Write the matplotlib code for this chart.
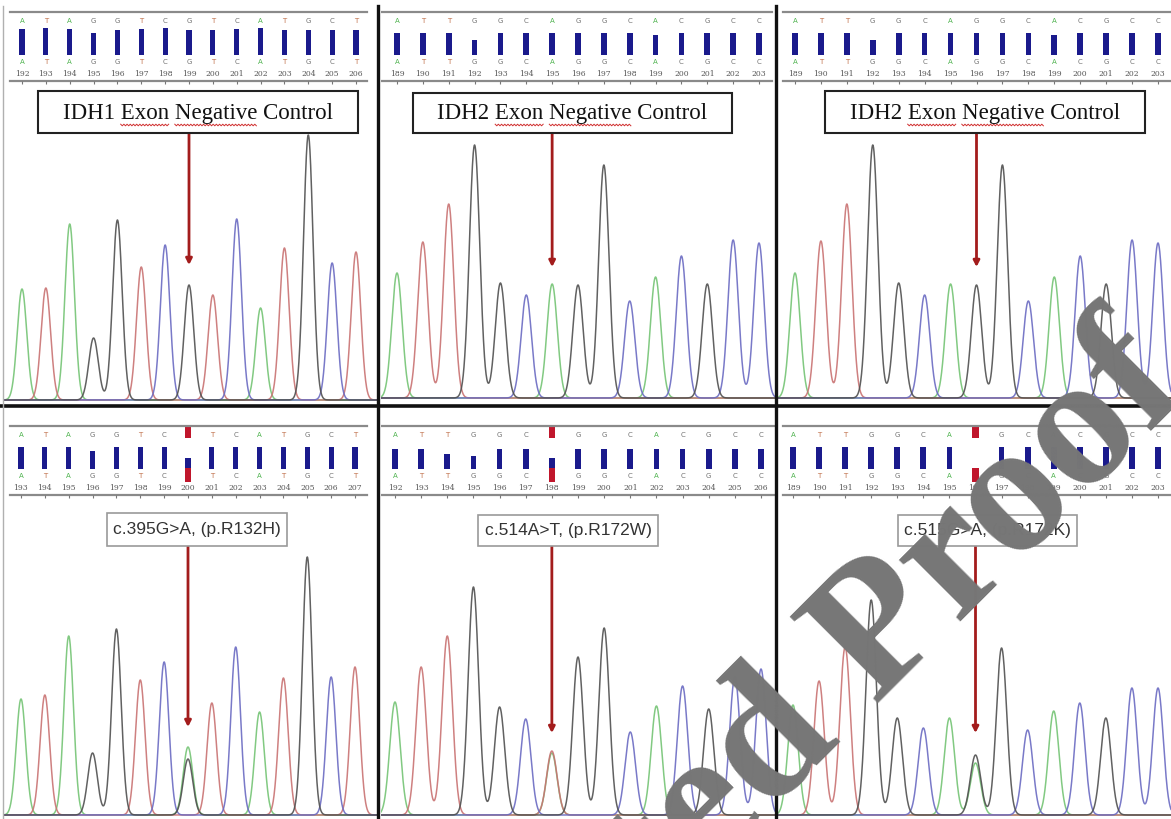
import numpy as np
import matplotlib
matplotlib.use("Agg")
import matplotlib.pyplot as plt
from matplotlib.patches import Rectangle
from matplotlib.font_manager import FontProperties
from matplotlib.textpath import TextToPath

W, H = 1171, 819

# ---- data ----
titles = ["IDH1 Exon Negative Control", "IDH2 Exon Negative Control",
          "IDH2 Exon Negative Control", "c.395G>A, (p.R132H)",
          "c.514A>T, (p.R172W)", "c.515G>A, (p.R172K)"]

p1_bases = list("ATAGGTCGTCATGCT")
p1_pos = list(range(192, 207))
p1_peaks = [111, 112, 176, 62, 180, 133, 155, 115, 105, 181, 92, 152, 265, 137, 148]
p1_qual = [26, 27, 26, 22, 25, 26, 27, 25, 25, 26, 27, 25, 25, 25, 25]

p2_bases = list("ATTGGCAGGCACGCC")
p2_pos = list(range(189, 204))
p2_peaks = [125, 156, 194, 253, 115, 103, 114, 113, 233, 97, 121, 142, 114, 158, 155]
p2_qual = [22, 22, 22, 15, 22, 22, 22, 22, 22, 22, 20, 22, 22, 22, 22]

p3_bases = list("ATTGGCAGGCACGCC")
p3_pos = list(range(189, 204))
p3_peaks = [125, 157, 194, 253, 115, 103, 114, 113, 233, 97, 121, 142, 114, 158, 155]
p3_qual = [22, 22, 22, 15, 22, 22, 22, 22, 22, 22, 20, 22, 22, 22, 22]

p4_bases = list("ATAGGTCRTCATGCT")
p4_pos = list(range(193, 208))
p4_peaks = [116, 120, 179, 62, 186, 135, 153, 0, 112, 168, 103, 137, 258, 138, 148]
p4_qual = [22, 22, 22, 18, 22, 22, 22, 0, 22, 22, 22, 22, 22, 22, 22]
p4_mix = [("A", 68), ("G", 56)]

p5_bases = list("ATTGGCWGGCACGCC")
p5_pos = list(range(192, 207))
p5_peaks = [113, 148, 179, 228, 108, 96, 0, 158, 187, 83, 109, 129, 106, 138, 146]
p5_qual = [20, 20, 15, 13, 20, 20, 0, 20, 20, 20, 20, 20, 20, 20, 20]
p5_mix = [("A", 62), ("T", 64)]

p6_bases = list("ATTGGCARGCACGCC")
p6_pos = list(range(189, 204))
p6_peaks = [110, 134, 168, 215, 97, 87, 97, 0, 167, 85, 104, 112, 97, 127, 127]
p6_qual = [22, 22, 22, 22, 22, 22, 22, 0, 22, 22, 22, 22, 22, 22, 22]
p6_mix = [("G", 60), ("A", 52)]

# mutated column: (index, blue part, red part) in the base-call strip
p4_mut = (7, 10, 14)
p5_mut = (6, 10, 14)
p6_mut = (7, 0, 14)

arrow_idx = [7, 6, 7, 7, 6, 7]
arrow_tip = [135, 131, 131, 88, 82, 82]

trace_col = {"A": "#74c474", "T": "#c97272", "C": "#6b6bc2", "G": "#505050"}
letter_col = {"A": "#4fb34f", "T": "#c0704a", "C": "#707070", "G": "#707070"}

panels = [
    dict(bases=p1_bases, pos=p1_pos, peaks=p1_peaks, qual=p1_qual, mix=None, mut=None),
    dict(bases=p2_bases, pos=p2_pos, peaks=p2_peaks, qual=p2_qual, mix=None, mut=None),
    dict(bases=p3_bases, pos=p3_pos, peaks=p3_peaks, qual=p3_qual, mix=None, mut=None),
    dict(bases=p4_bases, pos=p4_pos, peaks=p4_peaks, qual=p4_qual, mix=p4_mix, mut=p4_mut),
    dict(bases=p5_bases, pos=p5_pos, peaks=p5_peaks, qual=p5_qual, mix=p5_mix, mut=p5_mut),
    dict(bases=p6_bases, pos=p6_pos, peaks=p6_peaks, qual=p6_qual, mix=p6_mix, mut=p6_mut),
]

# ---- layout (pixels) ----
panel_lr = [(4, 378), (381, 775), (777, 1171), (4, 378), (381, 775), (777, 1171)]
first_last = [(22, 356), (397, 759), (795, 1158), (21, 355), (395, 761), (793, 1158)]
line_lr = [(10, 367), (381, 772), (783, 1171), (10, 367), (381, 775), (783, 1171)]
strip_y0 = [12, 12, 12, 426, 426, 426]
baseline_y = [400, 398, 398, 815, 815, 815]
boxes = [(38, 91, 358, 133), (413, 93, 732, 133), (825, 91, 1145, 133),
         (107, 513, 287, 546), (478, 515, 658, 546), (898, 515, 1077, 546)]

fig = plt.figure(figsize=(W / 100, H / 100), dpi=100)
fig.patch.set_facecolor("white")


def add_ax(l, t, r, b):
    ax = fig.add_axes([l / W, 1 - b / H, (r - l) / W, (b - t) / H])
    ax.set_axis_off()
    ax.patch.set_alpha(0)
    return ax


for k, p in enumerate(panels):
    L, R = panel_lr[k]
    x0, x1 = first_last[k]
    s = (x1 - x0) / 14.0
    xl = ((L - x0) / s, (R - x0) / s)
    n = len(p["bases"])
    idx = np.arange(n)

    # chromatogram
    y0 = strip_y0[k] + 80
    yb = baseline_y[k]
    cax = add_ax(L, y0, R, yb + 4)
    cax.set_xlim(*xl)
    cax.set_ylim(-4, yb - y0)
    xs = np.linspace(xl[0], xl[1], 2000)
    for base in ["A", "T", "C", "G"]:
        sig = np.zeros_like(xs)
        for i in range(n):
            hs = []
            if p["bases"][i] == base:
                hs.append(p["peaks"][i])
            elif p["mix"] is not None and p["bases"][i] not in "ACGT":
                hs += [h for b, h in p["mix"] if b == base]
            for h in hs:
                sig += h * np.exp(-0.5 * ((xs - i) / 0.2) ** 2)
        cax.plot(xs, sig, color=trace_col[base], lw=1.1, alpha=0.9)

    bl, bt, br, bb = boxes[k]
    cax.annotate("", xy=(arrow_idx[k], arrow_tip[k]), xytext=(arrow_idx[k], yb - bb),
                 arrowprops=dict(arrowstyle="-|>,head_length=0.35,head_width=0.18",
                                 color="#a31c1c", lw=2.0, shrinkA=0, shrinkB=0))

    # base-call strip
    sy = strip_y0[k]
    sax = add_ax(L, sy - 6, R, sy + 74)
    sax.set_xlim(*xl)
    sax.set_ylim(74, -6)
    ll, lr = line_lr[k]
    lx = ((ll - x0) / s, (lr - x0) / s)
    sax.plot(lx, [0, 0], color="#8a8a8a", lw=1.6)
    sax.plot(lx, [69, 69], color="#8a8a8a", lw=1.6)
    sax.vlines(idx, 69, 72, color="#777777", lw=0.8)
    mut = p["mut"]
    for i in range(n):
        if mut is not None and i == mut[0]:
            sax.bar(i, 11, bottom=1, width=0.24, color="#c0162c")
            if mut[1] > 0:
                sax.bar(i, mut[1], bottom=42 - mut[1], width=0.24, color="#1a1a8c")
            sax.bar(i, mut[2], bottom=42, width=0.24, color="#c0162c")
        else:
            b = p["bases"][i]
            sax.text(i, 9, b, ha="center", va="center", fontsize=5, color=letter_col[b])
            sax.text(i, 50, b, ha="center", va="center", fontsize=5, color=letter_col[b])
            sax.bar(i, p["qual"][i], bottom=43 - p["qual"][i], width=0.22, color="#1a1a8c")
        sax.text(i, 62, str(p["pos"][i]), ha="center", va="center", fontsize=5.5,
                 color="#555555", family="DejaVu Serif")

# ---- overlay for frames, boxes and watermark ----
ov = add_ax(0, 0, W, H)
ov.set_xlim(0, W)
ov.set_ylim(H, 0)
serif = FontProperties(family="Liberation Serif", size=16.5)
t2p = TextToPath()


def text_px(s):
    w, h, d = t2p.get_text_width_height_descent(s, serif, ismath=False)
    return w * 100 / 72


for k in range(6):
    bl, bt, br, bb = boxes[k]
    top = k < 3
    ov.add_patch(Rectangle((bl, bt), br - bl, bb - bt, facecolor="white",
                           edgecolor="#222222" if top else "#9a9a9a",
                           lw=1.5 if top else 1.2))
    cx = (bl + br) / 2
    if top:
        ov.text(cx, (bt + bb) / 2 + 1, titles[k], ha="center", va="center",
                fontproperties=serif, color="#111111")
        # spell-check squiggle under "Exon Negative"
        start = cx - text_px(titles[k]) / 2
        for a, b in [("IDH1 ", "IDH1 Exon"), ("IDH1 Exon ", "IDH1 Exon Negative")]:
            xa, xb = start + text_px(a), start + text_px(b)
            zx = np.arange(xa, xb, 1.6)
            zy = bb - 8 + np.where(np.arange(len(zx)) % 2 == 0, -0.8, 0.8)
            ov.plot(zx, zy, color="#d03030", lw=0.7)
    else:
        ov.text(cx, (bt + bb) / 2, titles[k], ha="center", va="center",
                fontsize=12.5, family="Liberation Sans", color="#333333")

ov.plot([0, W], [406, 406], color="#111111", lw=2.6)
ov.plot([378, 378], [6, H], color="#111111", lw=2.4)
ov.plot([776, 776], [6, H], color="#111111", lw=2.4)
ov.plot([3, 3], [6, H], color="#b0b0b0", lw=1.0)

ov.text(1192, 390, "Uncorrected Proof", rotation=45, rotation_mode="anchor",
        ha="right", va="baseline", fontsize=136, family="Liberation Serif",
        weight="bold", color="#767676", zorder=10)

fig.savefig("out.png", dpi=100)
